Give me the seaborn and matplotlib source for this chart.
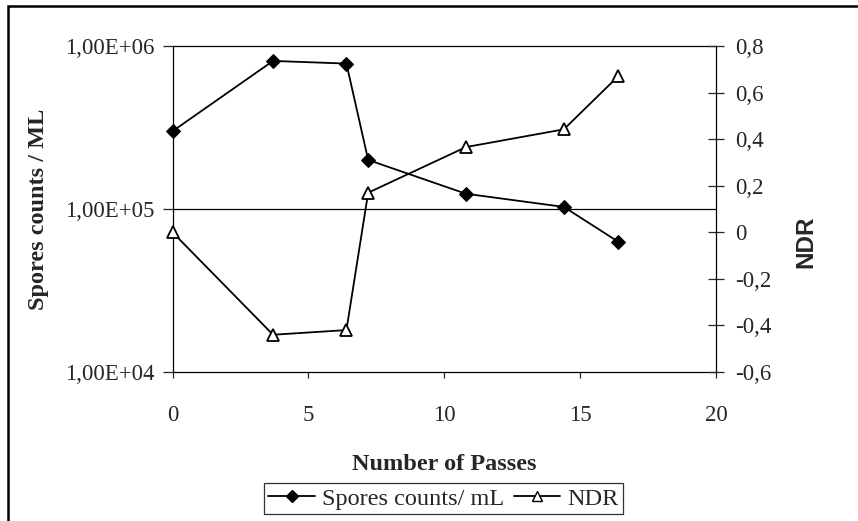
import matplotlib
matplotlib.use("Agg")
import numpy as np
import matplotlib.pyplot as plt
import seaborn as sns
from matplotlib.ticker import FixedLocator, FuncFormatter, NullLocator
from matplotlib.lines import Line2D
from matplotlib.patches import Rectangle

# ---- data ----
passes = [0, 3.7, 6.4, 7.2, 10.8, 14.4, 16.4]
spores = [3.0e5, 8.1e5, 7.8e5, 2.0e5, 1.24e5, 1.03e5, 6.3e4]
ndr = [0.0, -0.44, -0.42, 0.17, 0.366, 0.442, 0.67]

x_ticks = [0, 5, 10, 15, 20]
left_ticks = [1e4, 1e5, 1e6]
right_ticks = [-0.6, -0.4, -0.2, 0, 0.2, 0.4, 0.6, 0.8]

sns.set_style("white")
plt.rcParams["font.family"] = ["Liberation Serif", "DejaVu Serif"]
FS = 16.5      # tick labels
FS_T = 17.5    # axis titles / legend

fig = plt.figure(figsize=(8.58, 5.21), dpi=100)
ax = fig.add_axes([172.5 / 858, 1 - 372 / 521, (716 - 172.5) / 858, (372 - 46) / 521])
ax2 = ax.twinx()

sns.lineplot(x=passes, y=spores, ax=ax, color="black", marker="D", markersize=7,
             markerfacecolor="black", markeredgecolor="black", linewidth=1.3,
             sort=False, clip_on=False, zorder=5)
sns.lineplot(x=passes, y=ndr, ax=ax2, color="black", marker="^", markersize=9,
             markerfacecolor="white", markeredgecolor="black", markeredgewidth=1.3,
             linewidth=1.3, sort=False, clip_on=False, zorder=5)

# left (log) axis
ax.set_yscale("log")
ax.set_ylim(1e4, 1e6)
ax.yaxis.set_major_locator(FixedLocator(left_ticks))
ax.yaxis.set_minor_locator(NullLocator())
ax.yaxis.set_major_formatter(FuncFormatter(lambda v, p: f"1,00E+0{int(round(np.log10(v)))}"))
ax.set_xlim(0, 20)
ax.xaxis.set_major_locator(FixedLocator(x_ticks))
ax.set_xticklabels([str(t) for t in x_ticks])
for v in left_ticks[1:]:
    ax.axhline(v, color="black", linewidth=0.9, zorder=0, clip_on=False)

# right axis
ax2.set_ylim(-0.6, 0.8)
ax2.yaxis.set_major_locator(FixedLocator(right_ticks))
ax2.yaxis.set_major_formatter(FuncFormatter(lambda v, p: ("%g" % round(v, 1)).replace(".", ",")))

for a in (ax, ax2):
    for s in a.spines.values():
        s.set_visible(False)
ax.spines["left"].set_visible(True)
ax.spines["bottom"].set_visible(True)
ax2.spines["right"].set_visible(True)
for s in (ax.spines["left"], ax.spines["bottom"], ax2.spines["right"]):
    s.set_color("black")
    s.set_linewidth(0.9)

ax.tick_params(axis="y", direction="out", length=7, width=0.9, labelsize=FS, pad=6, left=True)
ax.tick_params(axis="x", direction="out", length=4.5, width=0.9, labelsize=FS, pad=19, bottom=True)
ax2.tick_params(axis="y", direction="inout", length=12, width=0.9, labelsize=FS, pad=7.5, right=True)

ax.set_ylabel("Spores counts / ML", fontsize=FS_T, fontweight="bold")
ax.yaxis.set_label_coords(-0.228, 0.5)
ax2.set_ylabel("NDR", fontsize=FS_T, fontweight="bold", family=["Liberation Sans", "DejaVu Sans"])
ax2.yaxis.set_label_coords(1.145, 0.40)
ax.set_xlabel("Number of Passes", fontsize=FS_T, fontweight="bold")
ax.xaxis.set_label_coords(0.5, -0.25)

handles = [
    Line2D([], [], color="black", marker="D", markersize=6, linewidth=1.3,
           markerfacecolor="black", label="Spores counts/ mL"),
    Line2D([], [], color="black", marker="^", markersize=7, linewidth=1.3,
           markerfacecolor="white", label="NDR"),
]
leg = fig.legend(handles=handles, loc="center", bbox_to_anchor=(443.5 / 858, 1 - 498.5 / 521),
                 ncol=2, fontsize=FS_T, frameon=True, fancybox=False, handlelength=1.9,
                 handletextpad=0.3, columnspacing=0.4, borderpad=0.2)
leg.get_frame().set_edgecolor("black")
leg.get_frame().set_linewidth(0.9)

# outer chart border
fig.patches.append(Rectangle((8 / 858, -0.05), 1.1, 1 - 6 / 521 + 0.05, transform=fig.transFigure,
                             fill=False, edgecolor="black", linewidth=1.8))

fig.savefig("out.png", dpi=100)
